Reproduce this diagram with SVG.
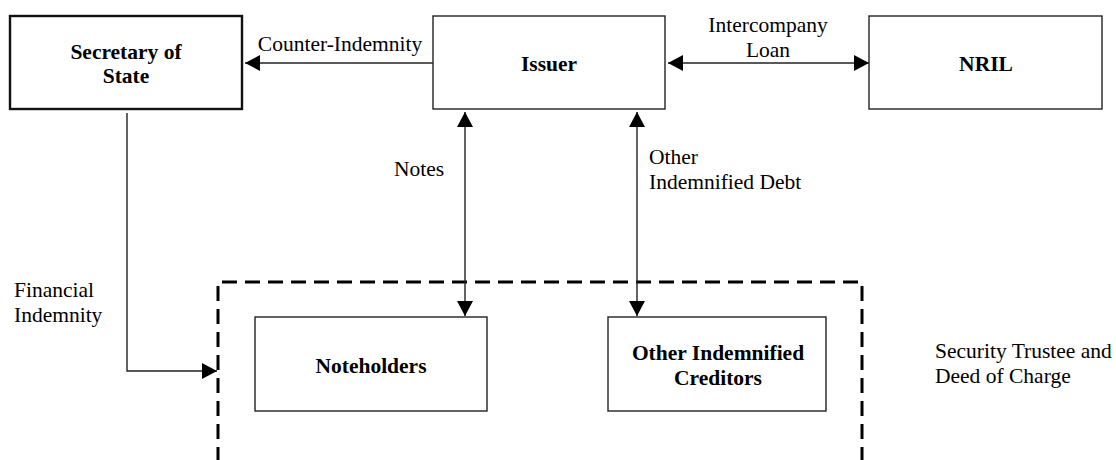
<svg xmlns="http://www.w3.org/2000/svg" width="1116" height="460" viewBox="0 0 1116 460">
<style>
text{font-family:"Liberation Serif","Times New Roman",serif;font-size:21.5px;fill:#000}
.b{font-weight:bold}
.box{fill:#fff;stroke:#222;stroke-width:1.4}
.line{stroke:#222;stroke-width:1.4;fill:none}
</style>
<defs>
<marker id="ah" viewBox="0 0 15 16" refX="15" refY="8" markerWidth="15" markerHeight="16" markerUnits="userSpaceOnUse" orient="auto-start-reverse">
<path d="M0,0L15,8L0,16z" fill="#000"/>
</marker>
</defs>
<rect width="1116" height="460" fill="#fff"/>
<g id="container">
<path d="M218,462V282H862V462" fill="none" stroke="#000" stroke-width="3" stroke-dasharray="15,8"/>
</g>
<g id="connectors">
<line class="line" x1="433" y1="63" x2="245" y2="63" marker-end="url(#ah)"/>
<line class="line" x1="668" y1="63" x2="869" y2="63" marker-start="url(#ah)" marker-end="url(#ah)"/>
<line class="line" x1="465" y1="112" x2="465" y2="316" marker-start="url(#ah)" marker-end="url(#ah)"/>
<line class="line" x1="637" y1="112" x2="637" y2="316" marker-start="url(#ah)" marker-end="url(#ah)"/>
<path class="line" d="M127,113V371H217" marker-end="url(#ah)"/>
</g>
<g id="sos"><rect x="10" y="16" width="232" height="93" fill="#fff" stroke="#111" stroke-width="2.4"/>
<text class="b" x="126" y="59" text-anchor="middle">Secretary of</text>
<text class="b" x="126" y="83" text-anchor="middle">State</text></g>
<g id="issuer"><rect class="box" x="433" y="16" width="232" height="93"/>
<text class="b" x="549" y="71" text-anchor="middle">Issuer</text></g>
<g id="nril"><rect class="box" x="869" y="16" width="233" height="93"/>
<text class="b" x="986" y="71" text-anchor="middle">NRIL</text></g>
<g id="noteholders"><rect class="box" x="255" y="317" width="232" height="94"/>
<text class="b" x="371" y="373" text-anchor="middle">Noteholders</text></g>
<g id="oic"><rect class="box" x="608" y="317" width="218" height="94"/>
<text class="b" x="718" y="360" text-anchor="middle">Other Indemnified</text>
<text class="b" x="718" y="385" text-anchor="middle">Creditors</text></g>
<g id="labels">
<text x="340" y="51" text-anchor="middle">Counter-Indemnity</text>
<text x="768" y="32" text-anchor="middle">Intercompany</text>
<text x="768" y="57" text-anchor="middle">Loan</text>
<text x="394" y="176">Notes</text>
<text x="649" y="164">Other</text>
<text x="649" y="189">Indemnified Debt</text>
<text x="14" y="297">Financial</text>
<text x="14" y="322">Indemnity</text>
<text x="935" y="358">Security Trustee and</text>
<text x="935" y="383">Deed of Charge</text>
</g>
</svg>
